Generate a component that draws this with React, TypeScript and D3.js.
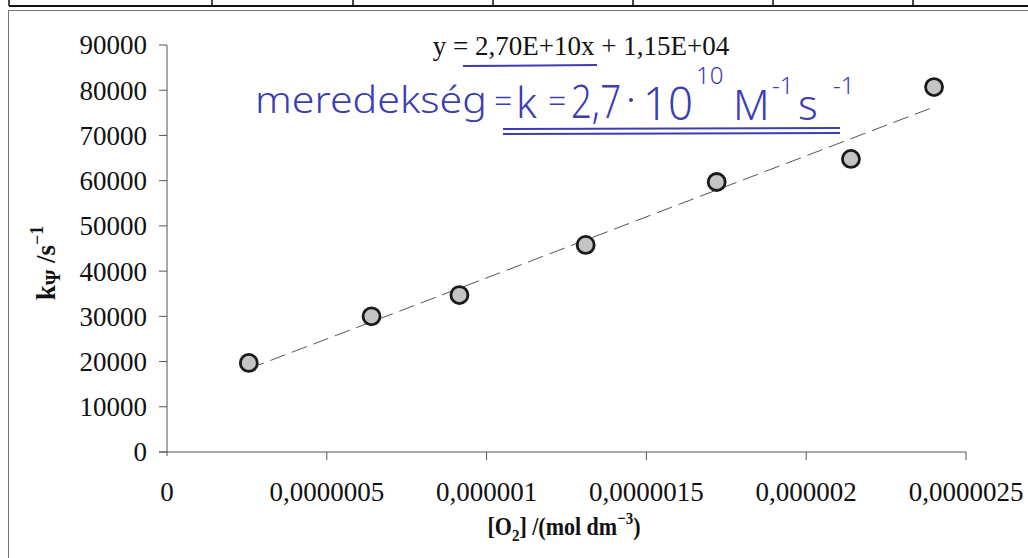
import React from "react";
import * as d3 from "d3";

const concentrations = [2.56e-7, 6.4e-7, 9.15e-7, 1.31e-6, 1.72e-6, 2.14e-6, 2.4e-6];
const rateConstants = [19700, 30000, 34700, 45800, 59700, 64800, 80700];
const xTickValues = [0, 5e-7, 1e-6, 1.5e-6, 2e-6, 2.5e-6];
const xTickLabels = ["0", "0,0000005", "0,000001", "0,0000015", "0,000002", "0,0000025"];
const yTickValues = [0, 10000, 20000, 30000, 40000, 50000, 60000, 70000, 80000, 90000];
const fitSlope = 2.7e10;
const fitIntercept = 11500;
const tableColumns = [9, 212, 353, 493, 633, 773, 913];

const W = 1028;
const H = 558;
const serif = "'Liberation Serif', 'Times New Roman', serif";
const hand = "'Noto Sans', 'DejaVu Sans', sans-serif";
const blue = "#3c3cb4";

export default function App() {
  const x = d3.scaleLinear().domain([0, 2.5e-6]).range([167, 966]);
  const y = d3.scaleLinear().domain([0, 90000]).range([452, 45]);
  const pts = concentrations.map((c, i) => ({ c, k: rateConstants[i] }));
  const xMin = d3.min(concentrations) as number;
  const xMax = d3.max(concentrations) as number;
  const fit = d3
    .line<number>()
    .x((d) => x(d))
    .y((d) => y(fitSlope * d + fitIntercept));

  return (
    <svg
      width={W}
      height={H}
      style={{ position: "absolute", left: 0, top: 0, background: "#fff" }}
      fontFamily={serif}
    >
      <rect width={W} height={H} fill="#fff" />
      {/* table row remnant at top */}
      <line x1={9} x2={W} y1={6} y2={6} stroke="#111" strokeWidth={2} />
      {tableColumns.map((cx, i) => (
        <line key={i} x1={cx} x2={cx} y1={0} y2={6} stroke="#111" strokeWidth={1.5} />
      ))}
      {/* chart frame */}
      <line x1={8} x2={W} y1={10.5} y2={10.5} stroke="#777" strokeWidth={1} />
      <line x1={8.5} x2={8.5} y1={10} y2={H} stroke="#777" strokeWidth={1} />

      {/* y axis */}
      <line x1={167} x2={167} y1={y(90000)} y2={y(0) + 4} stroke="#555" strokeWidth={1} />
      {yTickValues.map((v) => (
        <g key={v}>
          <line x1={159} x2={167} y1={y(v)} y2={y(v)} stroke="#555" strokeWidth={1} />
          <text x={147} y={y(v)} dy="0.35em" textAnchor="end" fontSize={27} fill="#111">
            {v}
          </text>
        </g>
      ))}
      {/* x axis */}
      <line x1={159} x2={x(2.5e-6)} y1={y(0)} y2={y(0)} stroke="#555" strokeWidth={1} />
      {xTickValues.map((v, i) => (
        <g key={i}>
          {i > 0 && <line x1={x(v)} x2={x(v)} y1={y(0)} y2={y(0) + 8} stroke="#555" strokeWidth={1} />}
          <text x={x(v)} y={501} textAnchor="middle" fontSize={27} fill="#111">
            {xTickLabels[i]}
          </text>
        </g>
      ))}

      {/* axis titles */}
      <text
        transform="translate(55,263) rotate(-90)"
        textAnchor="middle"
        fontSize={27}
        fontWeight="bold"
        fill="#111"
      >
        k<tspan fontSize={20} dy={5}>Ψ</tspan>
        <tspan dy={-5}> /s</tspan>
        <tspan fontSize={18} dy={-12}>−1</tspan>
      </text>
      <text
        transform="translate(564,535) scale(0.88,1)"
        textAnchor="middle"
        fontSize={25}
        fontWeight="bold"
        fill="#111"
      >
        [O<tspan fontSize={17} dy={6}>2</tspan>
        <tspan dy={-6}>] /(mol dm</tspan>
        <tspan fontSize={17} dy={-11}>−3</tspan>
        <tspan dy={11}>)</tspan>
      </text>

      {/* trendline */}
      <path
        d={fit([xMin, xMax]) || ""}
        fill="none"
        stroke="#555"
        strokeWidth={1}
        strokeDasharray="16 7"
      />
      {/* points */}
      {pts.map((p, i) => (
        <circle key={i} cx={x(p.c)} cy={y(p.k)} r={8.5} fill="#c4c4c4" stroke="#1a1a1a" strokeWidth={2.8} />
      ))}

      {/* equation */}
      <text x={581} y={55} textAnchor="middle" fontSize={27} fill="#111">
        y = 2,70E+10x + 1,15E+04
      </text>

      {/* handwritten annotation */}
      <g fill={blue} fontFamily={hand} fontWeight={300}>
        <line x1={463} x2={597} y1={66} y2={65} stroke={blue} strokeWidth={2} />
        <text x={255} y={113} fontSize={36} textLength={232} lengthAdjust="spacingAndGlyphs">
          meredekség
        </text>
        <text x={494} y={112} fontSize={32}>=</text>
        <text x={516} y={118} fontSize={42}>k</text>
        <text x={548} y={112} fontSize={32}>=</text>
        <text x={571} y={118} fontSize={46} textLength={50} lengthAdjust="spacingAndGlyphs">2,7</text>
        <circle cx={631} cy={100} r={2} fill={blue} />
        <text x={643} y={120} fontSize={46} textLength={50} lengthAdjust="spacingAndGlyphs">10</text>
        <text x={696} y={84} fontSize={24}>10</text>
        <text x={733} y={120} fontSize={42}>M</text>
        <text x={772} y={94} fontSize={24}>-1</text>
        <text x={798} y={120} fontSize={42}>s</text>
        <text x={833} y={94} fontSize={24}>-1</text>
        <line x1={503} x2={840} y1={129} y2={128} stroke={blue} strokeWidth={2} />
        <line x1={503} x2={840} y1={134} y2={133} stroke={blue} strokeWidth={2} />
      </g>
    </svg>
  );
}
